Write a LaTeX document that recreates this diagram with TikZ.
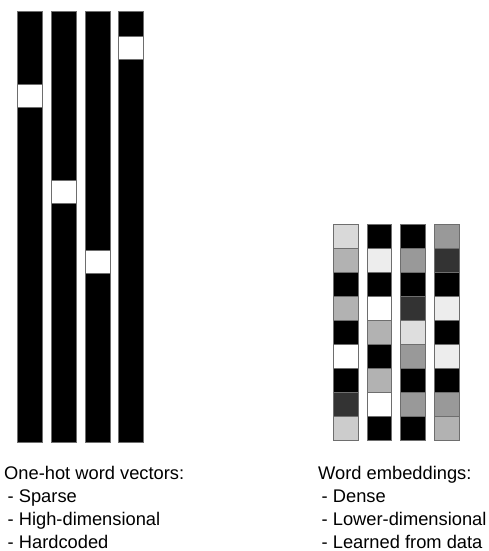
\documentclass[tikz,border=0pt]{standalone}
\usepackage{fontspec}
\setmainfont{Liberation Sans}
\definecolor{edge}{RGB}{110,110,110}
\begin{document}
\begin{tikzpicture}[x=1pt,y=-1pt,
  bar/.style={draw=edge, fill=black, line width=0.8pt, inner sep=0pt, outer sep=0pt,
    minimum width=25pt, minimum height=431.5pt, anchor=north west},
  hot/.style={draw=edge, fill=white, line width=0.8pt, inner sep=0pt, outer sep=0pt,
    minimum width=25pt, minimum height=23.5pt, anchor=north west},
  cell/.style={draw=edge, line width=0.8pt, inner sep=0pt, outer sep=0pt,
    minimum width=24.7pt, minimum height=24.04pt, anchor=north west},
  txt/.style={anchor=base west, inner sep=0pt, font=\fontsize{18.3}{23}\selectfont}]
\useasboundingbox (0,0) rectangle (488,551);
% one-hot bars
\node[bar] (b1) at (17.5,11) {};
\node[bar] (b2) at (51.2,11) {};
\node[bar] (b3) at (84.9,11) {};
\node[bar] (b4) at (118.6,11) {};
\node[hot] (h1) at (17.5,84) {};
\node[hot] (h2) at (51.2,180) {};
\node[hot] (h3) at (84.9,250.2) {};
\node[hot] (h4) at (118.6,36.2) {};
% embeddings
\foreach \col/\xx/\shades in {
  1/333.4/{15,30,100,30,100,0,100,80,20},
  2/367.1/{100,7,100,0,30,100,30,0,100},
  3/400.8/{100,40,100,80,13,40,100,40,100},
  4/434.5/{40,80,100,7,100,7,100,40,30}}{
  \foreach \s [count=\r] in \shades {
    \node[cell, fill=black!\s] (e\col-\r) at (\xx,{224.3+24.04*(\r-1)}) {};
  }
}
% texts
\node[txt] (lh) at (4,479) {One-hot word vectors:};
\node[txt] (l1) at (7.5,502) {- Sparse};
\node[txt] (l2) at (7.5,525) {- High-dimensional};
\node[txt] (l3) at (7.5,548) {- Hardcoded};
\node[txt] (rh) at (318,479) {Word embeddings:};
\node[txt] (r1) at (321.5,502) {- Dense};
\node[txt] (r2) at (321.5,525) {- Lower-dimensional};
\node[txt] (r3) at (321.5,548) {- Learned from data};
\end{tikzpicture}
\end{document}
